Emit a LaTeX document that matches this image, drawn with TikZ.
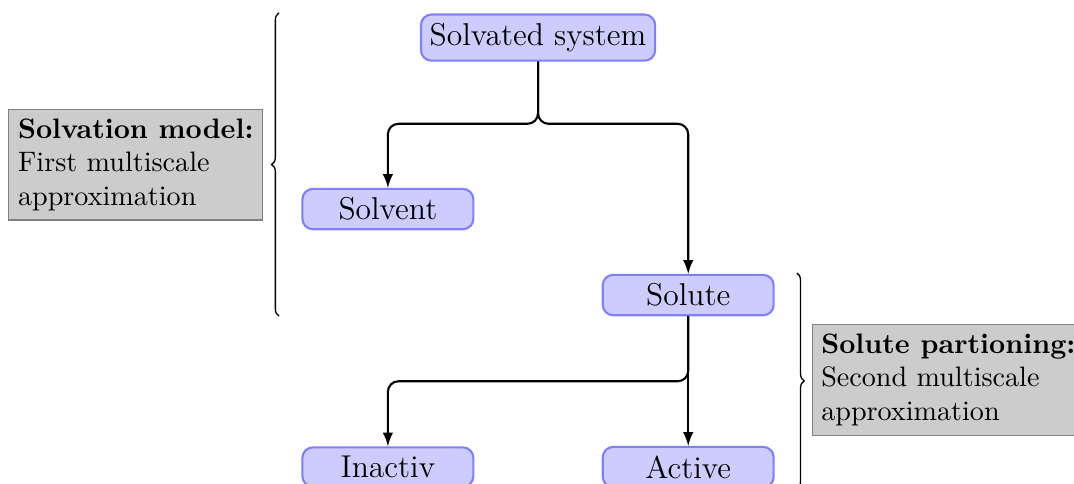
\documentclass[tikz,border=0pt]{standalone}
\usetikzlibrary{decorations.pathreplacing}
\tikzset{
  block/.style={rectangle, rounded corners=4pt, draw=blue!50, fill=blue!20, thick,
    minimum width=65pt, font=\large, inner sep=3.33pt},
  note/.style={rectangle, draw=gray, fill=gray!40, align=left, inner sep=3.5pt,
    font=\fontsize{10.7pt}{12.8pt}\selectfont},
  link/.style={-latex, thick, rounded corners=4pt},
  grp/.style={decorate, decoration={brace, amplitude=2.8pt}, line width=0.5pt},
}
\begin{document}
\begin{tikzpicture}[x=1pt, y=1pt]
\useasboundingbox (0,0) rectangle (408.4,-184);

% hierarchy of the system
\node[block] (sys)     at (204.6,-14.3)  {Solvated system};
\node[block] (solvent) at (147.5,-79.5)  {Solvent};
\node[block] (solute)  at (261.7,-112.2) {Solute};
\node[block] (inactiv) at (147.5,-177.6) {Inactiv};
\node[block] (active)  at (261.7,-177.6) {Active};

% branching connectors
\coordinate (fork1) at ([yshift=-23.6pt]sys.south);
\coordinate (fork2) at ([yshift=-24.7pt]solute.south);
\draw[link] (sys.south) -- (fork1) -| (solvent.north);
\draw[link] (sys.south) -- (fork1) -| (solute.north);
\draw[link] (solute.south) -- (fork2) -| (inactiv.north);
\draw[link] (solute.south) -- (active.north);

% braces grouping the two levels of approximation
\coordinate (b1s) at (106.1,-120.2);
\coordinate (b1e) at (106.1,-4.9);
\coordinate (b2s) at (303.0,-103.8);
\coordinate (b2e) at (303.0,-185.9);
\draw[grp] (b1s) -- (b1e);
\draw[grp] (b2s) -- (b2e);

% explanatory notes
\node[note, anchor=east] (model) at (100.1,-62.6)
  {\textbf{Solvation model:}\\First multiscale\\approximation};
\node[note, anchor=west] (part) at (308.6,-144.4)
  {\textbf{Solute partioning:}\\Second multiscale\\approximation};
\end{tikzpicture}
\end{document}
